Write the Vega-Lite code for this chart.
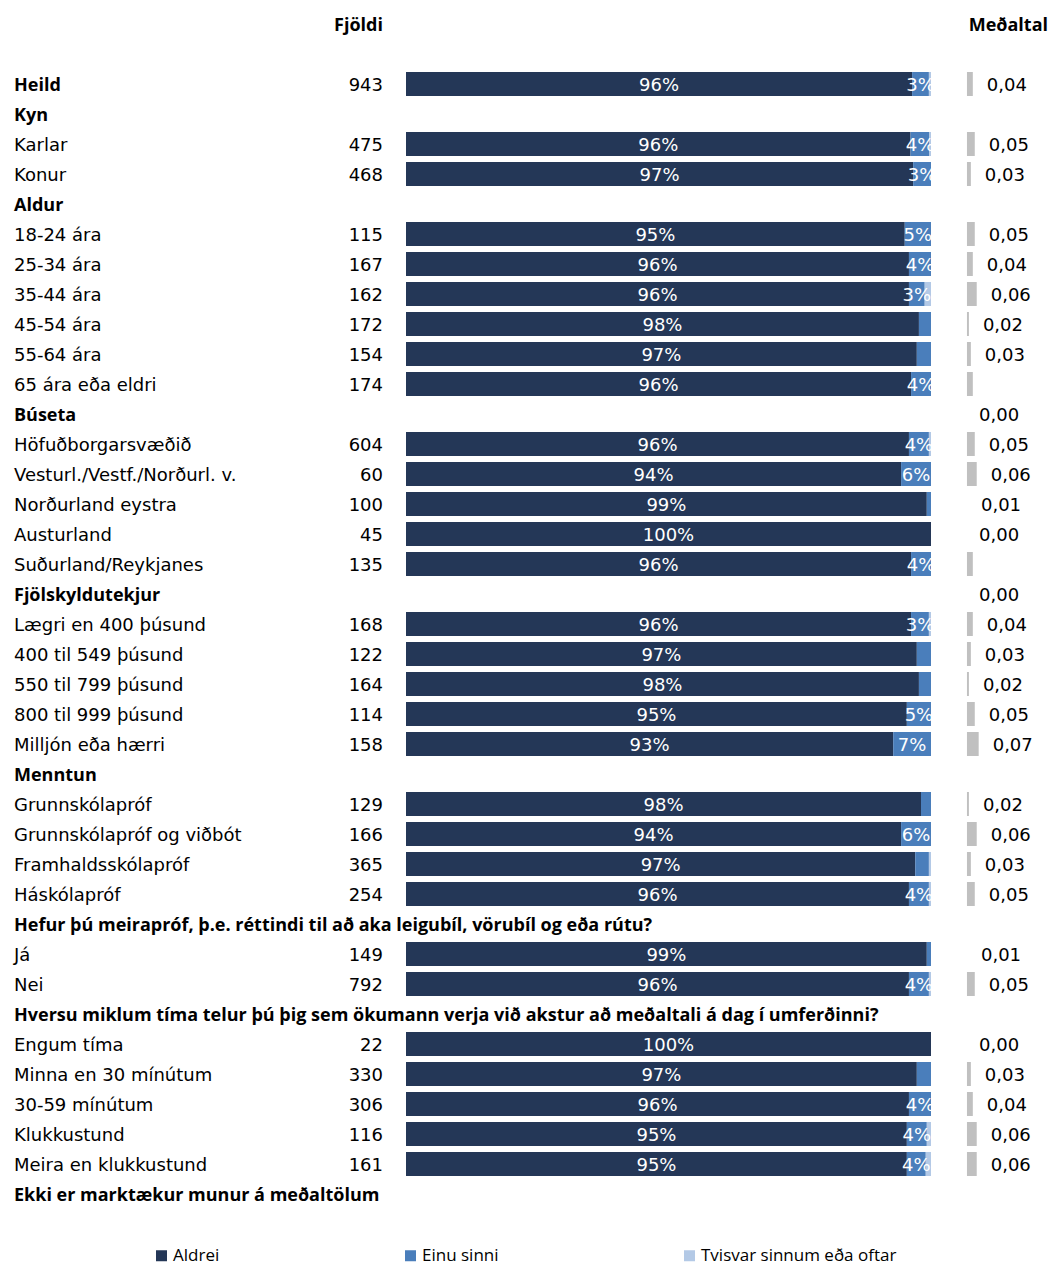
{
  "$schema": "https://vega.github.io/schema/vega-lite/v6.json",
  "padding": {"left": 14, "top": 9, "right": 0, "bottom": 58},
  "background": "white",
  "config": {
    "view": {"stroke": null},
    "text": {"font": "DejaVu Sans", "fontSize": 18, "color": "#000000", "baseline": "middle", "dy": 1.5}
  },
  "datasets": {
    "rows": [
      {"rod": 3, "flokkur": "Heild", "feitt": true, "fjoldi": 943, "Aldrei": 0.964, "Einu sinni": 0.032, "Tvisvar sinnum eða oftar": 0.004, "medaltal": 0.04, "medaltal_texti": "0,04"},
      {"rod": 4, "flokkur": "Kyn", "feitt": true},
      {"rod": 5, "flokkur": "Karlar", "feitt": false, "fjoldi": 475, "Aldrei": 0.961, "Einu sinni": 0.036, "Tvisvar sinnum eða oftar": 0.003, "medaltal": 0.05, "medaltal_texti": "0,05"},
      {"rod": 6, "flokkur": "Konur", "feitt": false, "fjoldi": 468, "Aldrei": 0.966, "Einu sinni": 0.034, "Tvisvar sinnum eða oftar": 0, "medaltal": 0.03, "medaltal_texti": "0,03"},
      {"rod": 7, "flokkur": "Aldur", "feitt": true},
      {"rod": 8, "flokkur": "18-24 ára", "feitt": false, "fjoldi": 115, "Aldrei": 0.95, "Einu sinni": 0.05, "Tvisvar sinnum eða oftar": 0, "medaltal": 0.05, "medaltal_texti": "0,05"},
      {"rod": 9, "flokkur": "25-34 ára", "feitt": false, "fjoldi": 167, "Aldrei": 0.958, "Einu sinni": 0.042, "Tvisvar sinnum eða oftar": 0, "medaltal": 0.04, "medaltal_texti": "0,04"},
      {"rod": 10, "flokkur": "35-44 ára", "feitt": false, "fjoldi": 162, "Aldrei": 0.958, "Einu sinni": 0.03, "Tvisvar sinnum eða oftar": 0.012, "medaltal": 0.06, "medaltal_texti": "0,06"},
      {"rod": 11, "flokkur": "45-54 ára", "feitt": false, "fjoldi": 172, "Aldrei": 0.977, "Einu sinni": 0.023, "Tvisvar sinnum eða oftar": 0, "medaltal": 0.02, "medaltal_texti": "0,02"},
      {"rod": 12, "flokkur": "55-64 ára", "feitt": false, "fjoldi": 154, "Aldrei": 0.973, "Einu sinni": 0.027, "Tvisvar sinnum eða oftar": 0, "medaltal": 0.03, "medaltal_texti": "0,03"},
      {"rod": 13, "flokkur": "65 ára eða eldri", "feitt": false, "fjoldi": 174, "Aldrei": 0.962, "Einu sinni": 0.038, "Tvisvar sinnum eða oftar": 0, "medaltal": 0.04, "medaltal_texti": ""},
      {"rod": 14, "flokkur": "Búseta", "feitt": true, "medaltal": 0, "medaltal_texti": "0,00"},
      {"rod": 15, "flokkur": "Höfuðborgarsvæðið", "feitt": false, "fjoldi": 604, "Aldrei": 0.958, "Einu sinni": 0.038, "Tvisvar sinnum eða oftar": 0.004, "medaltal": 0.05, "medaltal_texti": "0,05"},
      {"rod": 16, "flokkur": "Vesturl./Vestf./Norðurl. v.", "feitt": false, "fjoldi": 60, "Aldrei": 0.943, "Einu sinni": 0.057, "Tvisvar sinnum eða oftar": 0, "medaltal": 0.06, "medaltal_texti": "0,06"},
      {"rod": 17, "flokkur": "Norðurland eystra", "feitt": false, "fjoldi": 100, "Aldrei": 0.992, "Einu sinni": 0.008, "Tvisvar sinnum eða oftar": 0, "medaltal": 0.01, "medaltal_texti": "0,01"},
      {"rod": 18, "flokkur": "Austurland", "feitt": false, "fjoldi": 45, "Aldrei": 1, "Einu sinni": 0, "Tvisvar sinnum eða oftar": 0, "medaltal": 0, "medaltal_texti": "0,00"},
      {"rod": 19, "flokkur": "Suðurland/Reykjanes", "feitt": false, "fjoldi": 135, "Aldrei": 0.962, "Einu sinni": 0.038, "Tvisvar sinnum eða oftar": 0, "medaltal": 0.04, "medaltal_texti": ""},
      {"rod": 20, "flokkur": "Fjölskyldutekjur", "feitt": true, "medaltal": 0, "medaltal_texti": "0,00"},
      {"rod": 21, "flokkur": "Lægri en 400 þúsund", "feitt": false, "fjoldi": 168, "Aldrei": 0.962, "Einu sinni": 0.034, "Tvisvar sinnum eða oftar": 0.004, "medaltal": 0.04, "medaltal_texti": "0,04"},
      {"rod": 22, "flokkur": "400 til 549 þúsund", "feitt": false, "fjoldi": 122, "Aldrei": 0.973, "Einu sinni": 0.027, "Tvisvar sinnum eða oftar": 0, "medaltal": 0.03, "medaltal_texti": "0,03"},
      {"rod": 23, "flokkur": "550 til 799 þúsund", "feitt": false, "fjoldi": 164, "Aldrei": 0.977, "Einu sinni": 0.023, "Tvisvar sinnum eða oftar": 0, "medaltal": 0.02, "medaltal_texti": "0,02"},
      {"rod": 24, "flokkur": "800 til 999 þúsund", "feitt": false, "fjoldi": 114, "Aldrei": 0.954, "Einu sinni": 0.046, "Tvisvar sinnum eða oftar": 0, "medaltal": 0.05, "medaltal_texti": "0,05"},
      {"rod": 25, "flokkur": "Milljón eða hærri", "feitt": false, "fjoldi": 158, "Aldrei": 0.928, "Einu sinni": 0.072, "Tvisvar sinnum eða oftar": 0, "medaltal": 0.07, "medaltal_texti": "0,07"},
      {"rod": 26, "flokkur": "Menntun", "feitt": true},
      {"rod": 27, "flokkur": "Grunnskólapróf", "feitt": false, "fjoldi": 129, "Aldrei": 0.981, "Einu sinni": 0.019, "Tvisvar sinnum eða oftar": 0, "medaltal": 0.02, "medaltal_texti": "0,02"},
      {"rod": 28, "flokkur": "Grunnskólapróf og viðbót", "feitt": false, "fjoldi": 166, "Aldrei": 0.943, "Einu sinni": 0.057, "Tvisvar sinnum eða oftar": 0, "medaltal": 0.06, "medaltal_texti": "0,06"},
      {"rod": 29, "flokkur": "Framhaldsskólapróf", "feitt": false, "fjoldi": 365, "Aldrei": 0.97, "Einu sinni": 0.026, "Tvisvar sinnum eða oftar": 0.004, "medaltal": 0.03, "medaltal_texti": "0,03"},
      {"rod": 30, "flokkur": "Háskólapróf", "feitt": false, "fjoldi": 254, "Aldrei": 0.958, "Einu sinni": 0.038, "Tvisvar sinnum eða oftar": 0.004, "medaltal": 0.05, "medaltal_texti": "0,05"},
      {"rod": 31, "flokkur": "Hefur þú meirapróf, þ.e. réttindi til að aka leigubíl, vörubíl og eða rútu?", "feitt": true},
      {"rod": 32, "flokkur": "Já", "feitt": false, "fjoldi": 149, "Aldrei": 0.992, "Einu sinni": 0.008, "Tvisvar sinnum eða oftar": 0, "medaltal": 0.01, "medaltal_texti": "0,01"},
      {"rod": 33, "flokkur": "Nei", "feitt": false, "fjoldi": 792, "Aldrei": 0.958, "Einu sinni": 0.038, "Tvisvar sinnum eða oftar": 0.004, "medaltal": 0.05, "medaltal_texti": "0,05"},
      {"rod": 34, "flokkur": "Hversu miklum tíma telur þú þig sem ökumann verja við akstur að meðaltali á dag í umferðinni?", "feitt": true},
      {"rod": 35, "flokkur": "Engum tíma", "feitt": false, "fjoldi": 22, "Aldrei": 1, "Einu sinni": 0, "Tvisvar sinnum eða oftar": 0, "medaltal": 0, "medaltal_texti": "0,00"},
      {"rod": 36, "flokkur": "Minna en 30 mínútum", "feitt": false, "fjoldi": 330, "Aldrei": 0.973, "Einu sinni": 0.027, "Tvisvar sinnum eða oftar": 0, "medaltal": 0.03, "medaltal_texti": "0,03"},
      {"rod": 37, "flokkur": "30-59 mínútum", "feitt": false, "fjoldi": 306, "Aldrei": 0.958, "Einu sinni": 0.042, "Tvisvar sinnum eða oftar": 0, "medaltal": 0.04, "medaltal_texti": "0,04"},
      {"rod": 38, "flokkur": "Klukkustund", "feitt": false, "fjoldi": 116, "Aldrei": 0.954, "Einu sinni": 0.038, "Tvisvar sinnum eða oftar": 0.008, "medaltal": 0.06, "medaltal_texti": "0,06"},
      {"rod": 39, "flokkur": "Meira en klukkustund", "feitt": false, "fjoldi": 161, "Aldrei": 0.954, "Einu sinni": 0.036, "Tvisvar sinnum eða oftar": 0.01, "medaltal": 0.06, "medaltal_texti": "0,06"},
      {"rod": 40, "flokkur": "Ekki er marktækur munur á meðaltölum", "feitt": true}
    ]
  },
  "spacing": 0,
  "bounds": "flush",
  "hconcat": [
    {
      "width": 392,
      "height": 1200,
      "data": {"name": "rows"},
      "encoding": {
        "y": {"field": "rod", "type": "ordinal", "axis": null, "scale": {"type": "band", "domain": [1,2,3,4,5,6,7,8,9,10,11,12,13,14,15,16,17,18,19,20,21,22,23,24,25,26,27,28,29,30,31,32,33,34,35,36,37,38,39,40], "paddingInner": 0.2, "paddingOuter": 0.1}}
      },
      "layer": [
        {
          "transform": [{"filter": "!datum.feitt"}],
          "mark": {"type": "text", "align": "left"},
          "encoding": {
            "x": {"datum": 0, "type": "quantitative", "scale": {"domain": [0, 1], "range": [0, 369]}, "axis": null},
            "text": {"field": "flokkur", "type": "nominal"}
          }
        },
        {
          "transform": [{"filter": "datum.feitt"}],
          "mark": {"type": "text", "align": "left", "fontWeight": "bold", "font": "Open Sans"},
          "encoding": {
            "x": {"datum": 0, "type": "quantitative"},
            "text": {"field": "flokkur", "type": "nominal"}
          }
        },
        {
          "transform": [{"filter": "isValid(datum.fjoldi)"}],
          "mark": {"type": "text", "align": "right"},
          "encoding": {
            "x": {"datum": 1, "type": "quantitative"},
            "text": {"field": "fjoldi", "type": "quantitative", "format": "d"}
          }
        },
        {
          "data": {"values": [{"rod": 1, "titill": "Fjöldi"}]},
          "mark": {"type": "text", "align": "right", "fontWeight": "bold", "font": "Open Sans"},
          "encoding": {
            "x": {"datum": 1, "type": "quantitative"},
            "text": {"field": "titill", "type": "nominal"}
          }
        }
      ]
    },
    {
      "width": 525,
      "height": 1200,
      "data": {"name": "rows"},
      "transform": [
        {"fold": ["Aldrei", "Einu sinni", "Tvisvar sinnum eða oftar"], "as": ["svar", "hlutfall"]},
        {"filter": "isValid(datum.hlutfall)"}
      ],
      "encoding": {
        "y": {"field": "rod", "type": "ordinal", "axis": null, "scale": {"type": "band", "domain": [1,2,3,4,5,6,7,8,9,10,11,12,13,14,15,16,17,18,19,20,21,22,23,24,25,26,27,28,29,30,31,32,33,34,35,36,37,38,39,40], "paddingInner": 0.2, "paddingOuter": 0.1}}
      },
      "layer": [
        {
          "mark": {"type": "bar"},
          "encoding": {
            "x": {"field": "hlutfall", "type": "quantitative", "stack": "zero", "scale": {"domain": [0, 1]}, "axis": null},
            "order": {"field": "svar", "type": "ordinal", "sort": "ascending"},
            "color": {
              "field": "svar", "type": "nominal",
              "scale": {"domain": ["Aldrei", "Einu sinni", "Tvisvar sinnum eða oftar"], "range": ["#243757", "#4a7ebb", "#b3c9e6"]},
              "legend": {"title": null, "orient": "none", "legendX": 139, "legendY": 1238, "direction": "horizontal", "columnPadding": 182, "symbolType": "square", "symbolSize": 121, "symbolStrokeWidth": 0, "labelOffset": 3, "labelLimit": 400, "labelFont": "Open Sans", "labelFontSize": 17, "labelColor": "#000000"}
            }
          }
        },
        {
          "mark": {"type": "text", "color": "white"},
          "encoding": {
            "x": {"field": "hlutfall", "type": "quantitative", "stack": "zero", "bandPosition": 0.5},
            "order": {"field": "svar", "type": "ordinal", "sort": "ascending"},
            "detail": {"field": "svar", "type": "nominal"},
            "text": {
              "condition": {"test": "datum.svar == 'Tvisvar sinnum eða oftar' || datum.hlutfall < 0.03", "value": ""},
              "field": "hlutfall", "type": "quantitative", "format": ".0%"
            }
          }
        }
      ]
    },
    {
      "width": 122,
      "height": 1200,
      "data": {"name": "rows"},
      "encoding": {
        "y": {"field": "rod", "type": "ordinal", "axis": null, "scale": {"type": "band", "domain": [1,2,3,4,5,6,7,8,9,10,11,12,13,14,15,16,17,18,19,20,21,22,23,24,25,26,27,28,29,30,31,32,33,34,35,36,37,38,39,40], "paddingInner": 0.2, "paddingOuter": 0.1}}
      },
      "layer": [
        {
          "transform": [{"filter": "datum.medaltal >= 0.01"}],
          "mark": {"type": "bar", "color": "#c0c0c0"},
          "encoding": {
            "x": {"field": "medaltal", "type": "quantitative", "scale": {"domain": [0, 0.44], "range": [34, 122]}, "axis": null},
            "x2": {"datum": 0.01}
          }
        },
        {
          "transform": [{"filter": "isValid(datum.medaltal_texti) && datum.medaltal_texti != ''"}],
          "mark": {"type": "text", "align": "left", "dx": 14},
          "encoding": {
            "x": {"field": "medaltal", "type": "quantitative"},
            "text": {"field": "medaltal_texti", "type": "nominal"}
          }
        },
        {
          "data": {"values": [{"rod": 1, "titill": "Meðaltal"}]},
          "mark": {"type": "text", "align": "right", "fontWeight": "bold", "font": "Open Sans", "dx": -3},
          "encoding": {
            "x": {"datum": 0.44, "type": "quantitative"},
            "text": {"field": "titill", "type": "nominal"}
          }
        }
      ]
    }
  ]
}
